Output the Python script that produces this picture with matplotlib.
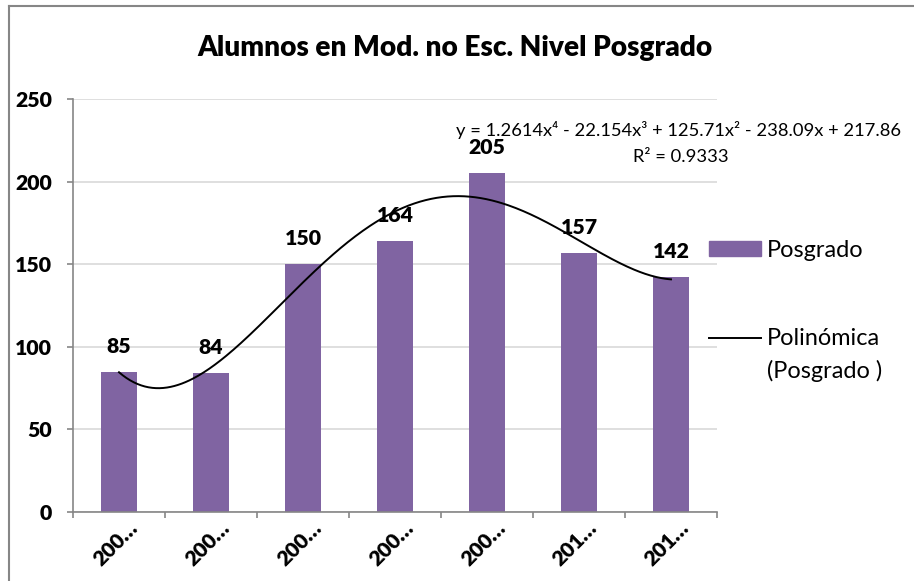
import numpy as np
import matplotlib
matplotlib.use("Agg")
import matplotlib.pyplot as plt
from matplotlib.lines import Line2D
from matplotlib.patches import Rectangle
from matplotlib.transforms import ScaledTranslation

plt.rcParams['font.family'] = ['Lato', 'DejaVu Sans']

# Data
categories = ["200…", "200…", "200…", "200…", "200…", "201…", "201…"]
posgrado = [85, 84, 150, 164, 205, 157, 142]
# 4th-order polynomial trend coefficients (highest power first) and R²
trend_coefs = [1.2614, -22.154, 125.71, -238.09, 217.86]
r_squared = 0.9333

bar_color = "#8064a2"
grid_color = "#d9d9d9"
axis_color = "#868686"
BOLD = "heavy"

W, H = 914, 581
fig = plt.figure(figsize=(W / 100, H / 100), dpi=100)
renderer = fig.canvas.get_renderer()


def size_for_width(text, width_px, **kw):
    """Font size (pt) at which `text` renders `width_px` pixels wide."""
    t = fig.text(0, 0, text, fontsize=10, **kw)
    w = t.get_window_extent(renderer).width
    t.remove()
    return 10 * width_px / w


def fy(py):
    return 1 - py / H


ax = fig.add_axes([73 / W, fy(512), (717 - 73) / W, (512 - 99) / H])

x = np.arange(1, len(posgrado) + 1)
ax.bar(x, posgrado, width=0.4, color=bar_color, zorder=2)

# Trend line across the category span
xs = np.linspace(1, len(posgrado), 300)
ax.plot(xs, np.polyval(trend_coefs, xs), color="black", lw=1.4, zorder=3)

# Value labels
label_size = size_for_width("205", 37, fontweight=BOLD)
for xi, v in zip(x, posgrado):
    ax.annotate(str(v), (xi, v), xytext=(0, 19 * 0.72), textcoords="offset points",
                ha="center", va="baseline", fontsize=label_size, fontweight=BOLD)

ax.set_xlim(0.5, len(posgrado) + 0.5)
ax.set_ylim(0, 250)
ax.set_yticks(range(0, 251, 50))
ax.yaxis.grid(True, color=grid_color, lw=1.2, zorder=0)
ax.set_axisbelow(True)

# Category ticks sit between bars; labels sit under bar centers
tick_size = size_for_width("250", 37, fontweight=BOLD)
xlab_size = size_for_width("200…", 53, fontweight=BOLD)
ax.set_xticks(np.arange(0.5, len(posgrado) + 1, 1))
ax.set_xticklabels([])
ax.set_xticks(x, minor=True)
ax.set_xticklabels(categories, minor=True, rotation=45, ha="right", va="center",
                   rotation_mode="anchor", fontsize=xlab_size, fontweight=BOLD)
ax.tick_params(axis="x", which="minor", length=0, pad=0)
shift = ScaledTranslation(15 / 100, -13 / 100, fig.dpi_scale_trans)
for lab in ax.get_xticklabels(minor=True):
    lab.set_transform(lab.get_transform() + shift)
ax.tick_params(axis="x", which="major", length=4.5, color=axis_color, width=1.2)
ax.tick_params(axis="y", length=4.5, color=axis_color, width=1.2, pad=10.5,
               labelsize=tick_size)
for lab in ax.get_yticklabels():
    lab.set_fontweight(BOLD)

for s in ("top", "right"):
    ax.spines[s].set_visible(False)
for s in ("left", "bottom"):
    ax.spines[s].set_color(axis_color)
    ax.spines[s].set_linewidth(1.2)

# Title
title = "Alumnos en Mod. no Esc. Nivel Posgrado"
fig.text(455 / W, fy(56), title, ha="center", va="baseline",
         fontsize=size_for_width(title, 518, fontweight=BOLD), fontweight=BOLD)

# Trend equation
c = trend_coefs
eq = f"y = {c[0]}x⁴ - {abs(c[1])}x³ + {c[2]}x² - {abs(c[3])}x + {c[4]}"
eq_size = size_for_width(eq, 446)
fig.text(678 / W, fy(136), eq, ha="center", va="baseline", fontsize=eq_size)
fig.text(681 / W, fy(162), f"R² = {r_squared}", ha="center", va="baseline",
         fontsize=eq_size)

# Legend
leg_size = size_for_width("Posgrado", 97)
fig.patches.append(Rectangle((709 / W, fy(256)), 52 / W, 15 / H,
                             transform=fig.transFigure, color=bar_color))
fig.text(767 / W, fy(257), "Posgrado", ha="left", va="baseline", fontsize=leg_size)
fig.lines.append(Line2D([709 / W, 761 / W], [fy(337.5), fy(337.5)],
                        transform=fig.transFigure, color="black", lw=1.4))
fig.text(767 / W, fy(345), "Polinómica", ha="left", va="baseline", fontsize=leg_size)
fig.text(767 / W, fy(378), "(Posgrado )", ha="left", va="baseline", fontsize=leg_size)

# Chart frame edges
fig.lines.append(Line2D([9 / W, 9 / W], [0, fy(6)], transform=fig.transFigure,
                        color=axis_color, lw=1.5))
fig.lines.append(Line2D([9 / W, 1], [fy(6), fy(6)], transform=fig.transFigure,
                        color=axis_color, lw=1.5))

fig.savefig("out.png", dpi=100, facecolor="white")
